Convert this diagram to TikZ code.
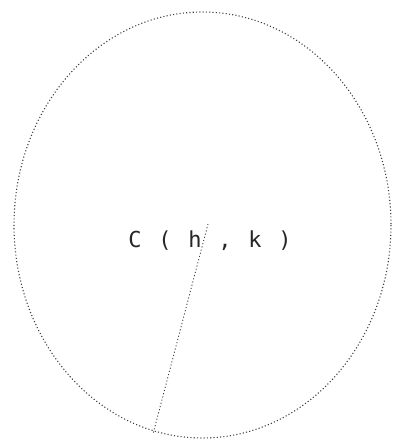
\documentclass[tikz,border=0pt]{standalone}
\usepackage{fontspec}
\newfontfamily\lblfont{DejaVu Sans Mono}
\begin{document}
\begin{tikzpicture}[x=1pt,y=-1pt,
  dotline/.style={black!75,line width=1.1pt,dash pattern=on 1.1pt off 2.2pt},
  lbl/.style={font=\lblfont\fontsize{22}{22}\selectfont,inner sep=0pt,text=black!85}]
\useasboundingbox (0,0) rectangle (394,440);
\coordinate (O) at (202.5,225);
\draw[dotline] (O) ellipse [x radius=188.5, y radius=213];
\node[lbl] (label) at (210,241) {\makebox[30pt]{C}\makebox[30pt]{(}\makebox[30pt]{h}\makebox[30pt]{,}\makebox[30pt]{k}\makebox[30pt]{)}};
\coordinate (C) at (208,224);
\coordinate (P) at (153,434);
\draw[dotline,line width=0.9pt] (C) -- (P);
\end{tikzpicture}
\end{document}
